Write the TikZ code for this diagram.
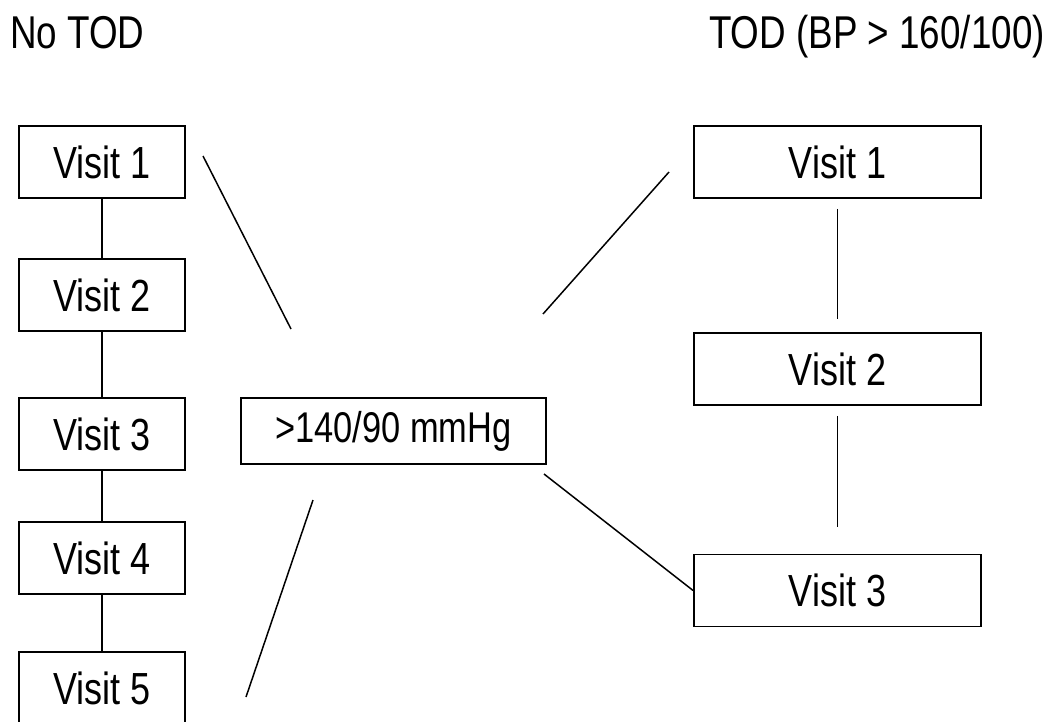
\documentclass[tikz,border=0pt]{standalone}
\usepackage{fontspec}
\setmainfont[FakeStretch=0.8]{Liberation Sans}
\usepackage{tikz}
\usetikzlibrary{positioning}

\begin{document}
\begin{tikzpicture}[
        x=1pt, y=-1pt,
        visit/.style={rectangle, draw, line width=1.8pt, minimum width=166pt, minimum height=72pt, inner sep=0pt, font=\fontsize{45}{50}\selectfont},
        wide/.style={visit, minimum width=287pt},
        link/.style={line width=1.5pt},
        title/.style={inner sep=0pt, font=\fontsize{46}{52}\selectfont}
    ]
    \useasboundingbox (0,0) rectangle (1051,722);
    \clip (0,0) rectangle (1051,722);

    % titles
    \node[title, anchor=base west] (notod) at (10,49) {No TOD};
    \node[title, anchor=base east] (tod) at (1045,49) {TOD (BP > 160/100)};

    % left column
    \node[visit] (l1) at (102,162) {Visit 1};
    \node[visit] (l2) at (102,295) {Visit 2};
    \node[visit] (l3) at (102,434) {Visit 3};
    \node[visit] (l4) at (102,558) {Visit 4};
    \node[visit] (l5) at (102,688) {Visit 5};

    % middle
    \node[visit, minimum width=305pt, minimum height=66pt, font=\fontsize{43}{48}\selectfont] (bp) at (393.5,431) {>140/90 mmHg};

    % right column
    \node[wide] (r1) at (837.5,162) {Visit 1};
    \node[wide] (r2) at (837.5,369) {Visit 2};
    \node[wide] (r3) at (837.5,590.5) {Visit 3};

    % free ends of the slanted lines
    \coordinate (a1) at (203,156);
    \coordinate (a2) at (291,329);
    \coordinate (b1) at (313,500);
    \coordinate (b2) at (246,697);
    \coordinate (c1) at (543,314);
    \coordinate (c2) at (669,172);
    \coordinate (d1) at (544,474);

    % lines
    \draw[link] (l1) -- (l2);
    \draw[link] (l2) -- (l3);
    \draw[link] (l3) -- (l4);
    \draw[link] (l4) -- (l5);
    \draw[link, shorten <=10pt, shorten >=13pt] (r1) -- (r2);
    \draw[link, shorten <=10pt, shorten >=27pt] (r2) -- (r3);
    \draw[link] (a1) -- (a2);
    \draw[link] (b1) -- (b2);
    \draw[link] (c1) -- (c2);
    \draw[link] (d1) -- (r3.west);
\end{tikzpicture}
\end{document}
